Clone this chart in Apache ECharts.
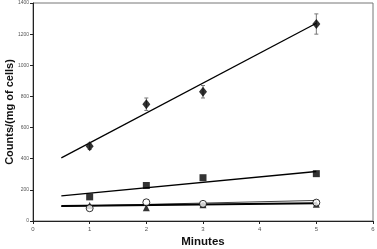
<!DOCTYPE html>
<html><head><meta charset="utf-8">
<script src="https://cdn.jsdelivr.net/npm/echarts@6/dist/echarts.min.js"></script>
<style>html,body{margin:0;padding:0;background:#fff}#c{width:377px;height:249px}</style>
</head><body><div id="c"></div>
<script>
var minutes = [1, 2, 3, 5];
var diamondVals = [480, 750, 830, 1265];
var diamondErr = [20, 40, 40, 65];
var squareVals = [155, 228, 278, 304];
var circleVals = [82, 120, 110, 118];
var triangleVals = [100, 85, 105, 108];
var fitX = [0.5, 5];
var diamondFit = [405, 1270];
var squareFit = [162, 318];
var circleFit = [94, 132];
var triangleFit = [96, 114];
var xTicks = [0, 1, 2, 3, 4, 5, 6];
var yTicks = [0, 200, 400, 600, 800, 1000, 1200, 1400];

function pts(xs, ys){ return xs.map(function(x,i){return [x, ys[i]];}); }
function fitLine(ys, w, color){
  return {type:'line', data: pts(fitX, ys), symbol:'none', lineStyle:{color:color, width:w}, z:2, silent:true};
}
var chart = echarts.init(document.getElementById('c'), null, {renderer:'canvas'});
chart.setOption({
  animation:false,
  grid:{left:33, top:3, right:4, bottom:28, show:true, borderColor:'#777', borderWidth:1, containLabel:false, outerBoundsMode:'none'},
  xAxis:{type:'value', min:0, max:6, interval:1,
    name:'Minutes', nameLocation:'middle', nameGap:15, nameMoveOverlap:false,
    nameTextStyle:{fontFamily:'Liberation Sans', fontWeight:'bold', fontSize:11.5, color:'#111'},
    axisLine:{lineStyle:{color:'#222', width:1}}, axisTick:{show:true, length:3, lineStyle:{color:'#222'}},
    axisLabel:{fontFamily:'Liberation Sans', fontSize:6, color:'#555', margin:5, formatter:function(v){return xTicks.indexOf(v)>=0?String(v):'';}},
    splitLine:{show:false}},
  yAxis:{type:'value', min:0, max:1400, interval:200,
    name:'Counts/(mg of cells)', nameLocation:'middle', nameGap:18, nameRotate:90, nameMoveOverlap:false,
    nameTextStyle:{fontFamily:'Liberation Sans', fontWeight:'bold', fontSize:11, color:'#111'},
    axisLine:{show:true, lineStyle:{color:'#222', width:1}}, axisTick:{show:true, length:3, lineStyle:{color:'#222'}},
    axisLabel:{fontFamily:'Liberation Sans', fontSize:5, color:'#555', margin:4, formatter:function(v){return yTicks.indexOf(v)>=0?String(v):'';}},
    splitLine:{show:false}},
  series:[
    fitLine(diamondFit, 1.3, '#000'),
    fitLine(squareFit, 1.3, '#000'),
    fitLine(circleFit, 1, '#444'),
    fitLine(triangleFit, 2, '#000'),
    {type:'custom', z:3, silent:true,
      data: minutes.map(function(x,i){return [x, diamondVals[i]-diamondErr[i], diamondVals[i]+diamondErr[i]];}),
      renderItem:function(params, api){
        var lo = api.coord([api.value(0), api.value(1)]);
        var hi = api.coord([api.value(0), api.value(2)]);
        var s = {stroke:'#777', lineWidth:1};
        return {type:'group', children:[
          {type:'line', shape:{x1:lo[0], y1:lo[1], x2:hi[0], y2:hi[1]}, style:s},
          {type:'line', shape:{x1:lo[0]-2, y1:lo[1], x2:lo[0]+2, y2:lo[1]}, style:s},
          {type:'line', shape:{x1:hi[0]-2, y1:hi[1], x2:hi[0]+2, y2:hi[1]}, style:s}
        ]};
      }},
    {type:'scatter', data: pts(minutes, diamondVals), symbol:'diamond', symbolSize:[8,10], itemStyle:{color:'#000'}, z:4},
    {type:'scatter', data: pts(minutes, squareVals), symbol:'rect', symbolSize:7, itemStyle:{color:'#000'}, z:4},
    {type:'scatter', data: pts(minutes, triangleVals), symbol:'triangle', symbolSize:7, itemStyle:{color:'#000'}, z:4},
    {type:'scatter', data: pts(minutes, circleVals), symbol:'circle', symbolSize:7, itemStyle:{color:'#fff', borderColor:'#000', borderWidth:1}, z:5}
  ]
});
</script></body></html>
